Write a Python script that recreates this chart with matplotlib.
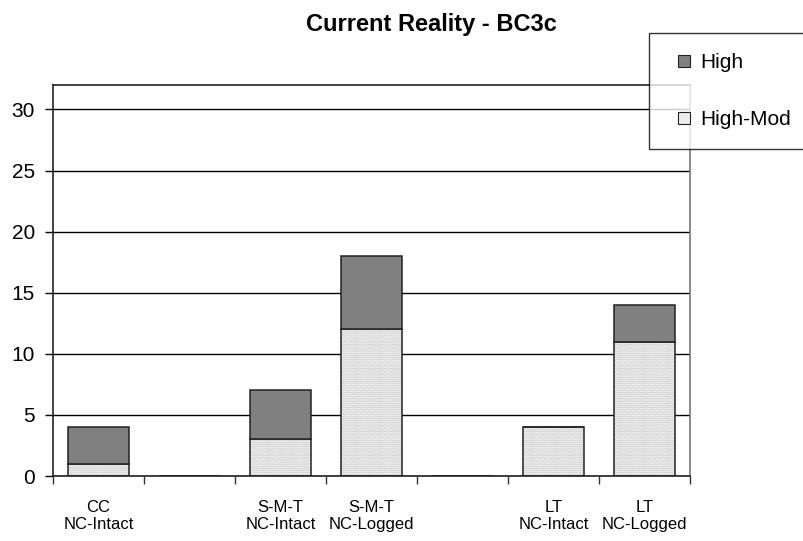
import matplotlib
matplotlib.use("Agg")
import matplotlib.pyplot as plt
from matplotlib.lines import Line2D
import numpy as np

plt.rcParams['font.family'] = ['Liberation Sans', 'DejaVu Sans']
plt.rcParams['hatch.linewidth'] = 0.8

categories = ['CC\nNC-Intact', '', 'S-M-T\nNC-Intact', 'S-M-T\nNC-Logged',
              '', 'LT\nNC-Intact', 'LT\nNC-Logged']
high_mod = [1, 0, 3, 12, 0, 4, 11]
high = [3, 0, 4, 6, 0, 0, 3]

x = np.arange(len(categories))
w = 0.66

fig = plt.figure(figsize=(8.04, 5.41), dpi=100)
ax = fig.add_axes([53/804, 1-476/541, (690-53)/804, (476-85)/541])

# dotted fill for High-Mod (hatch colour comes from edgecolor, so draw outline separately)
ax.bar(x, high_mod, w, color='white', edgecolor='#b8b8b8', linewidth=0,
       hatch='.........', zorder=2)
ax.bar(x, high_mod, w, color='none', edgecolor='#222222', linewidth=1.1, zorder=3)
ax.bar(x, high, w, bottom=high_mod, color='#808080', edgecolor='#222222',
       linewidth=1.1, zorder=3)

ax.set_ylim(0, 32)
ax.set_xlim(-0.5, len(categories) - 0.5)
ax.set_yticks(range(0, 31, 5))
ax.yaxis.grid(True, color='black', linewidth=1)
ax.set_axisbelow(True)

# tick marks between categories, labels at centers
ax.set_xticks(np.arange(-0.5, len(categories), 1.0))
ax.set_xticklabels([])
ax.set_xticks(x, minor=True)
ax.set_xticklabels(categories, minor=True, fontsize=12, linespacing=1.2)
ax.tick_params(axis='x', which='minor', length=0, pad=17)
ax.tick_params(axis='x', which='major', length=6, width=1, color='#333333')
ax.tick_params(axis='y', length=6, width=1, pad=7, labelsize=15)

for side in ['left', 'bottom', 'top']:
    ax.spines[side].set_color('#222222')
    ax.spines[side].set_linewidth(1.2)
ax.spines['right'].set_color('#777777')
ax.spines['right'].set_linewidth(1.2)

fig.text(431/804, 1-24/541, 'Current Reality - BC3c', ha='center', va='center',
         fontsize=17, fontweight='bold')

handles = [Line2D([], [], linestyle='none', marker='s', markersize=8.6,
                  markerfacecolor='#808080', markeredgecolor='#222222', markeredgewidth=0.8),
           Line2D([], [], linestyle='none', marker='s', markersize=8.6,
                  markerfacecolor='#ececec', markeredgecolor='#222222', markeredgewidth=0.8)]
leg = fig.legend(handles, ['High', 'High-Mod'], loc='upper left',
                 bbox_to_anchor=(649/804, 1-33/541), fontsize=15,
                 frameon=True, fancybox=False, borderpad=0.95,
                 labelspacing=1.85, handlelength=1.5,
                 handletextpad=0.0, borderaxespad=0)
leg.get_frame().set_edgecolor('black')
leg.get_frame().set_linewidth(1.0)

fig.savefig('out.png', dpi=100)
